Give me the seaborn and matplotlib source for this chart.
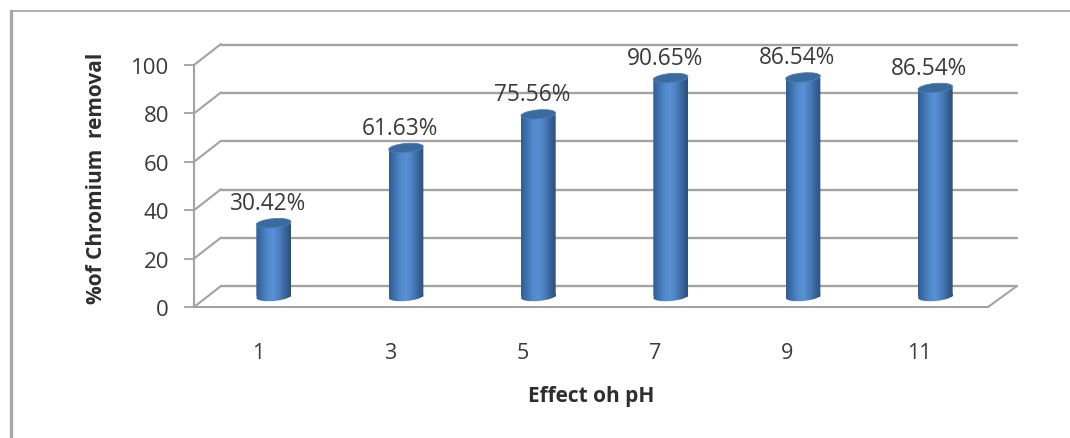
import numpy as np
import pandas as pd
import matplotlib.pyplot as plt
import seaborn as sns
from matplotlib.colors import LinearSegmentedColormap
from matplotlib.lines import Line2D
from matplotlib.patches import Ellipse
from matplotlib.path import Path
from matplotlib.transforms import Affine2D, IdentityTransform

# valores
ph_labels = ['1', '3', '5', '7', '9', '11']
removal = [30.42, 61.63, 75.56, 90.65, 90.9, 86.54]
bar_labels = ['30.42%', '61.63%', '75.56%', '90.65%', '86.54%', '86.54%']
y_ticks = [0, 20, 40, 60, 80, 100]

W, H = 1070, 439
GRID = '#a3a3a3'
TEXT = '#3a3a3a'

sns.set_theme(style='white')
plt.rcParams['font.family'] = ['Open Sans', 'DejaVu Sans']


def box(x0, x1, y_top, y_bottom):
    return [x0 / W, 1 - y_bottom / H, (x1 - x0) / W, (y_bottom - y_top) / H]


fig = plt.figure(figsize=(W / 100, H / 100), dpi=100)
fig.patch.set_facecolor('white')

# moldura
fig.add_artist(Line2D([11 / W, 11 / W], [0, 1 - 12 / H], color='#a8a8a8', lw=2.4))
fig.add_artist(Line2D([11 / W, 1], [1 - 12 / H, 1 - 12 / H], color='#9a9a9a', lw=1.1))

# parede do fundo
ax_back = fig.add_axes(box(221, 1017, 46, 287))
ax_back.set_xlim(-0.5, 5.5)
ax_back.set_ylim(0, 100)
ax_back.set_yticks(y_ticks)
ax_back.set_xticks([])
ax_back.tick_params(labelleft=False, length=0)
ax_back.grid(axis='y', color=GRID, lw=1.7)
for line in ax_back.get_ygridlines():
    line.set_clip_on(False)
ax_back.patch.set_visible(False)
sns.despine(ax=ax_back, left=True, bottom=True)

# plano da frente: eixos e textos
ax_front = fig.add_axes(box(194, 988, 66, 308))
ax_front.set_xlim(-0.5, 5.5)
ax_front.set_ylim(0, 100)
ax_front.set_yticks(y_ticks)
ax_front.set_xticks([t - 0.016 for t in range(len(ph_labels))])
ax_front.set_xticklabels(ph_labels)
ax_front.tick_params(axis='y', length=7, width=1.3, color=GRID, pad=11, labelsize=16, labelcolor=TEXT, left=True)
ax_front.tick_params(axis='x', length=0, pad=25, labelsize=15.5, labelcolor=TEXT)
ax_front.patch.set_visible(False)
sns.despine(ax=ax_front, top=True, right=True)
for s in ['left', 'bottom']:
    ax_front.spines[s].set_color(GRID)
    ax_front.spines[s].set_linewidth(1.5)
ax_front.set_ylabel('%of Chromium  removal', fontsize=15, fontweight='bold', color='#2e2e2e', va='center')
ax_front.yaxis.set_label_coords(-97 / 794, 0.5 + 9 / 242)
ax_front.set_xlabel('Effect oh pH', fontsize=15, fontweight='bold', color='#2e2e2e', va='center')
ax_front.xaxis.set_label_coords((591 - 194) / 794, -(397 - 308) / 242)

# paredes laterais e chao
dx = 27 / (794 / 6)
dy = 21 / 2.42
for v in y_ticks:
    ax_front.plot([-0.5, -0.5 + dx], [v, v + dy], color=GRID, lw=1.5, clip_on=False, zorder=1)
ax_front.plot([5.5, 5.5 + 29 / (794 / 6)], [0, dy], color=GRID, lw=1.5, clip_on=False, zorder=1)

# cilindros no plano do meio
ax = fig.add_axes(box(207.5, 1001.5, 56.5, 297.5))
df = pd.DataFrame({'ph': ph_labels, 'removal': removal})
sns.barplot(data=df, x='ph', y='removal', ax=ax, width=0.262, color='#4f81bd', saturation=1)
ax.set_xlim(-0.5, 5.5)
ax.set_ylim(0, 100)
ax.axis('off')

cyl = LinearSegmentedColormap.from_list(
    'cyl', ['#2f5d94', '#3f72ae', '#5089cd', '#5a90d4', '#4a80c0', '#3a659c', '#2a4f7c'])
grad = np.linspace(0, 1, 128).reshape(1, -1)

fig.canvas.draw()
for bar, label in zip(list(ax.patches), bar_labels):
    x0, w, v = bar.get_x(), bar.get_width(), bar.get_height()
    xc = x0 + w / 2
    (px0, py0), (px1, py1) = ax.transData.transform([(x0, 0), (x0 + w, v)])
    pxc = (px0 + px1) / 2
    pw = px1 - px0

    # corpo com o fundo arredondado
    base = Affine2D().scale(pw / 2, 4.5).rotate_deg(5).translate(pxc, py0)
    shape = Path.make_compound_path(
        Path([(px0, py0), (px1, py0), (px1, py1), (px0, py1), (px0, py0)], closed=True),
        Path.unit_circle().transformed(base))
    bar.set_visible(False)
    im = ax.imshow(grad, cmap=cyl, aspect='auto', extent=(x0, x0 + w, -4, v), zorder=3)
    im.set_clip_box(fig.bbox)
    im.set_clip_path(shape, transform=IdentityTransform())

    # tampa
    cap = Ellipse((0, 0), pw, 9, angle=5, facecolor='#3b6a9f', edgecolor='#4a7fb8', lw=0.6,
                  transform=Affine2D().translate(pxc, py1), zorder=4)
    ax.add_artist(cap)

    ax.annotate(label, (xc, v), xytext=(-6, 20), textcoords='offset pixels', ha='center', va='center',
                fontsize=16.3, color=TEXT, annotation_clip=False, zorder=5)
ax.set_xlim(-0.5, 5.5)
ax.set_ylim(0, 100)

fig.savefig('out.png', dpi=100)
